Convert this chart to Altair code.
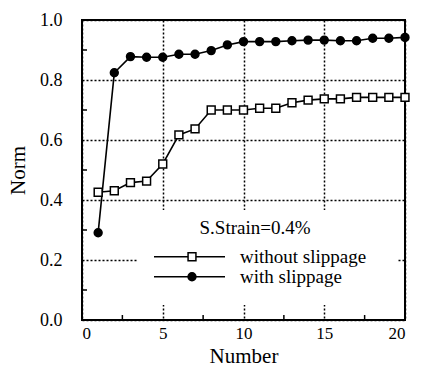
import altair as alt
import pandas as pd

numbers = list(range(1, 21))
without_slippage = [0.426, 0.431, 0.458, 0.463, 0.520, 0.617, 0.637, 0.700, 0.700, 0.700,
                    0.706, 0.706, 0.724, 0.733, 0.737, 0.737, 0.742, 0.742, 0.742, 0.742]
with_slippage = [0.291, 0.824, 0.878, 0.876, 0.876, 0.886, 0.886, 0.898, 0.917, 0.928,
                 0.928, 0.928, 0.931, 0.933, 0.933, 0.931, 0.931, 0.939, 0.939, 0.942]
series_names = ["without slippage", "with slippage"]
x_ticks = [0, 5, 10, 15, 20]
y_ticks = [0.0, 0.2, 0.4, 0.6, 0.8, 1.0]
x_minor = [2.5, 7.5, 12.5, 17.5]
y_minor = [0.1, 0.3, 0.5, 0.7, 0.9]
annotation = "S.Strain=0.4%"

FONT = "Liberation Serif"
W, H = 323, 300

df_wo = pd.DataFrame({"Number": numbers, "Norm": without_slippage, "series": series_names[0]})
df_w = pd.DataFrame({"Number": numbers, "Norm": with_slippage, "series": series_names[1]})

xs = alt.Scale(domain=[0, 20], nice=False)
ys = alt.Scale(domain=[0, 1], nice=False)

x_axis = alt.Axis(values=x_ticks, grid=True, gridDash=[2, 2], gridColor="black", gridWidth=1.5,
                  gridOpacity=1, domain=False, ticks=False, labelFont=FONT, labelFontSize=17,
                  labelColor="black", labelPadding=5, title="Number", titleFont=FONT,
                  titleFontSize=21, titleFontWeight="normal", titleColor="black", titlePadding=4)
y_axis = alt.Axis(values=y_ticks, format=".1f", grid=True, gridDash=[2, 2], gridColor="black",
                  gridWidth=1.5, gridOpacity=1, domain=False, ticks=False, labelFont=FONT,
                  labelFontSize=18, labelColor="black", labelPadding=20, title="Norm",
                  titleFont=FONT, titleFontSize=21, titleFontWeight="normal", titleColor="black",
                  titlePadding=11)

base_grid = alt.Chart(df_wo).mark_point(opacity=0).encode(
    x=alt.X("Number:Q", scale=xs, axis=x_axis),
    y=alt.Y("Norm:Q", scale=ys, axis=y_axis),
)

def series_layer(df, shape, fill):
    line = alt.Chart(df).mark_line(color="black", strokeWidth=1.6).encode(
        x=alt.X("Number:Q", scale=xs), y=alt.Y("Norm:Q", scale=ys))
    pts = alt.Chart(df).mark_point(shape=shape, filled=True, fill=fill, stroke="black",
                                   strokeWidth=1.5, size=62, opacity=1).encode(
        x=alt.X("Number:Q", scale=xs), y=alt.Y("Norm:Q", scale=ys))
    return line, pts

l1, p1 = series_layer(df_wo, "square", "white")
l2, p2 = series_layer(df_w, "circle", "black")

ym = pd.DataFrame({"v": y_minor})
xm = pd.DataFrame({"v": x_minor})
ytick_layer = alt.Chart(ym).mark_rule(color="black", strokeWidth=1.5).encode(
    y=alt.Y("v:Q", scale=ys), x=alt.value(0), x2=alt.value(5))
xtick_layer = alt.Chart(xm).mark_rule(color="black", strokeWidth=1.5).encode(
    x=alt.X("v:Q", scale=xs), y=alt.value(H), y2=alt.value(H - 5))

one = pd.DataFrame({"t": [annotation]})
box = alt.Chart(one).mark_rect(fill="white").encode(
    x=alt.value(55), x2=alt.value(315), y=alt.value(190), y2=alt.value(285))
ann = alt.Chart(one).mark_text(font=FONT, fontSize=19, color="black", align="center",
                               baseline="middle").encode(
    x=alt.value(173), y=alt.value(208), text="t:N")

leg_layers = []
rows = [(series_names[0], "square", "white", 236.7), (series_names[1], "circle", "black", 256.7)]
for name, shape, fill, yy in rows:
    d = pd.DataFrame({"t": [name]})
    leg_layers.append(alt.Chart(d).mark_rule(color="black", strokeWidth=1.6).encode(
        x=alt.value(72), x2=alt.value(143), y=alt.value(yy)))
    leg_layers.append(alt.Chart(d).mark_point(shape=shape, filled=True, fill=fill, stroke="black",
                                              strokeWidth=1.5, size=62, opacity=1).encode(
        x=alt.value(110), y=alt.value(yy)))
    leg_layers.append(alt.Chart(d).mark_text(font=FONT, fontSize=19, color="black", align="left",
                                             baseline="middle").encode(
        x=alt.value(158), y=alt.value(yy), text="t:N"))

chart = alt.layer(base_grid, box, ytick_layer, xtick_layer, l1, l2, p1, p2, ann, *leg_layers).properties(
    width=W, height=H, autosize="none",
    padding={"left": 82, "top": 20, "right": 25, "bottom": 62},
    background="white",
).configure_view(stroke="black", strokeWidth=2)

chart.save("out.html", embed_options={"renderer": "svg", "actions": False})
